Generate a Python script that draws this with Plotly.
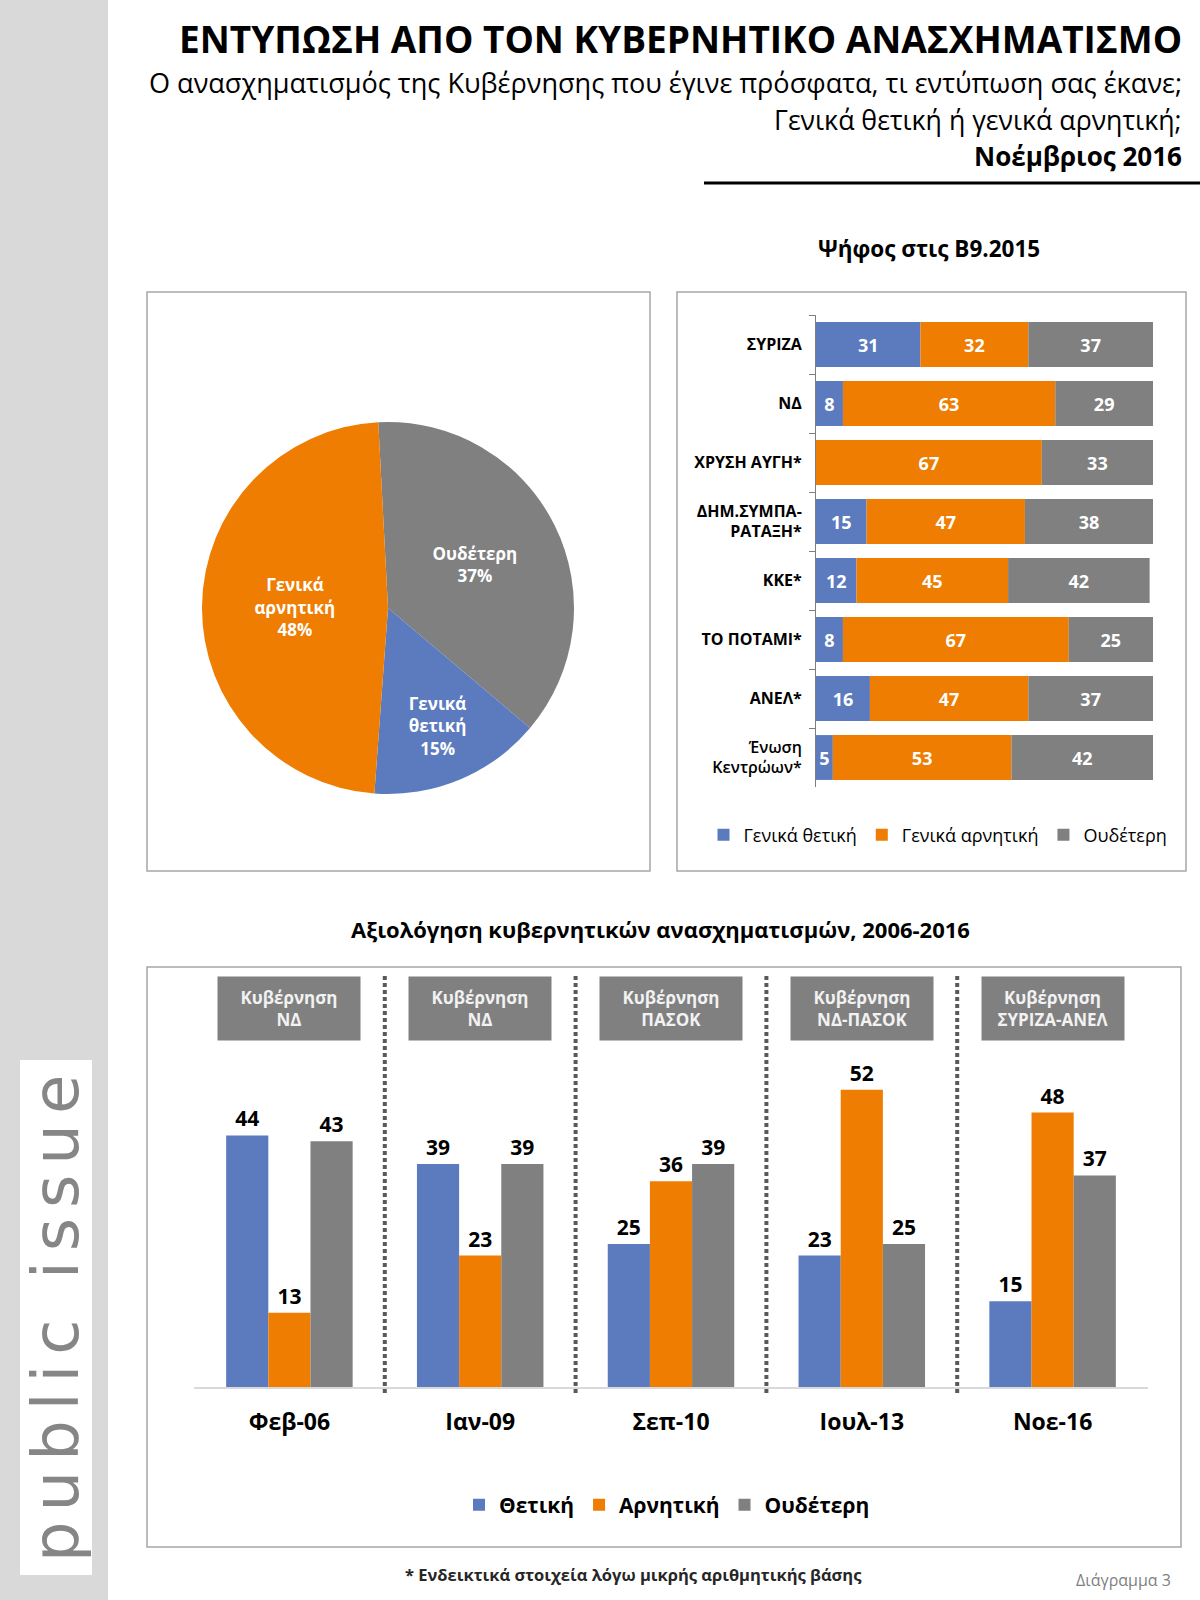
import plotly.graph_objects as go
import numpy as np

W, H = 1200, 1600
def px(x): return x / W
def py(y): return 1 - y / H

FONT = "Open Sans"
BLUE = "#5B7BBE"
ORANGE = "#EE7D02"
GRAY = "#808080"

# ---- Pie data ----
pie_labels = ["Ουδέτερη", "Γενικά θετική", "Γενικά αρνητική"]
pie_values = [37, 15, 48]

# ---- Stacked horizontal bars (vote 2015) ----
parties = ["<b>ΣΥΡΙΖΑ</b>", "<b>ΝΔ</b>", "<b>ΧΡΥΣΗ ΑΥΓΗ*</b>", "<b>ΔΗΜ.ΣΥΜΠΑ-<br>ΡΑΤΑΞΗ*</b>",
           "<b>ΚΚΕ*</b>", "<b>ΤΟ ΠΟΤΑΜΙ*</b>", "<b>ΑΝΕΛ*</b>",
           "<span style='font-weight:600'>Ένωση<br>Κεντρώων*</span>"]
party_pos = [31, 8, 0, 15, 12, 8, 16, 5]
party_neg = [32, 63, 67, 47, 45, 67, 47, 53]
party_neu = [37, 29, 33, 38, 42, 25, 37, 42]
party_series = ["Γενικά θετική", "Γενικά αρνητική", "Ουδέτερη"]

# ---- Grouped bars (reshuffles) ----
dates = ["Φεβ-06", "Ιαν-09", "Σεπ-10", "Ιουλ-13", "Νοε-16"]
governments = ["Κυβέρνηση<br>ΝΔ", "Κυβέρνηση<br>ΝΔ", "Κυβέρνηση<br>ΠΑΣΟΚ",
               "Κυβέρνηση<br>ΝΔ-ΠΑΣΟΚ", "Κυβέρνηση<br>ΣΥΡΙΖΑ-ΑΝΕΛ"]
eval_pos = [44, 39, 25, 23, 15]
eval_neg = [13, 23, 36, 52, 48]
eval_neu = [43, 39, 39, 25, 37]
eval_series = ["Θετική", "Αρνητική", "Ουδέτερη"]

fig = go.Figure()

# Pie
fig.add_trace(go.Pie(
    labels=pie_labels, values=pie_values,
    text=[l.replace(" ", "<br>") for l in pie_labels],
    texttemplate="%{text}<br>%{value}%",
    textposition="inside", insidetextorientation="horizontal",
    textfont=dict(family=FONT, size=17, color="white", weight="bold"),
    marker=dict(colors=[GRAY, BLUE, ORANGE], line=dict(width=0)),
    sort=False, direction="clockwise", rotation=-3,
    domain=dict(x=[px(202), px(574)], y=[py(794), py(422)]),
    showlegend=False, hoverinfo="skip",
))

# Stacked horizontal bars via explicit base
vals = [party_pos, party_neg, party_neu]
cols = [BLUE, ORANGE, GRAY]
cum = np.zeros(len(parties))
for name, v, c in zip(party_series, vals, cols):
    v = np.array(v)
    fig.add_trace(go.Bar(
        y=parties, x=v, base=cum.copy(), orientation="h", name=name,
        marker=dict(color=c, line=dict(width=0)),
        text=[str(a) if a > 0 else "" for a in v],
        textposition="inside", insidetextanchor="middle", textangle=0,
        constraintext="none",
        textfont=dict(family=FONT, size=18, color="white", weight="bold"),
        width=0.76, offsetgroup="stack",
        xaxis="x", yaxis="y", legend="legend", hoverinfo="skip",
    ))
    cum = cum + v

# Grouped bars
for name, v, c in zip(eval_series, [eval_pos, eval_neg, eval_neu], cols):
    fig.add_trace(go.Bar(
        x=dates, y=v, name=name,
        marker=dict(color=c, line=dict(width=0)),
        text=[str(a) for a in v], textposition="outside", cliponaxis=False,
        textfont=dict(family=FONT, size=21, color="black", weight="bold"),
        xaxis="x2", yaxis="y2", legend="legend2", hoverinfo="skip",
    ))

shapes = [
    # side bar
    dict(type="rect", xref="paper", yref="paper", x0=0, x1=px(108), y0=0, y1=1,
         fillcolor="#D9D9D9", line=dict(width=0), layer="below"),
    dict(type="rect", xref="paper", yref="paper", x0=px(20), x1=px(92), y0=py(1575), y1=py(1060),
         fillcolor="white", line=dict(width=0), layer="below"),
    # header rule
    dict(type="line", xref="paper", yref="paper", x0=px(704), x1=1, y0=py(183), y1=py(183),
         line=dict(color="black", width=3)),
    # panel borders
    dict(type="rect", xref="paper", yref="paper", x0=px(147), x1=px(650), y0=py(871), y1=py(292),
         line=dict(color="#A6A6A6", width=1.5), layer="below"),
    dict(type="rect", xref="paper", yref="paper", x0=px(677), x1=px(1186), y0=py(871), y1=py(292),
         line=dict(color="#A6A6A6", width=1.5), layer="below"),
    dict(type="rect", xref="paper", yref="paper", x0=px(147), x1=px(1181), y0=py(1547), y1=py(967),
         line=dict(color="#A6A6A6", width=1.5), layer="below"),
]
# dotted separators between periods
for i in range(len(dates) - 1):
    shapes.append(dict(type="line", xref="x2", yref="paper", x0=i + 0.5, x1=i + 0.5,
                       y0=py(1393), y1=py(975),
                       line=dict(color="#595959", width=4, dash="4px,3px"), layer="below"))

annotations = [
    dict(text="<b>ΕΝΤΥΠΩΣΗ ΑΠΟ ΤΟΝ ΚΥΒΕΡΝΗΤΙΚΟ ΑΝΑΣΧΗΜΑΤΙΣΜΟ</b>", x=px(1184), y=py(38),
         xanchor="right", yanchor="middle", font=dict(family=FONT, size=37, color="black")),
    dict(text="Ο ανασχηματισμός της Κυβέρνησης που έγινε πρόσφατα, τι εντύπωση σας έκανε;",
         x=px(1184), y=py(82), xanchor="right", yanchor="middle",
         font=dict(family=FONT, size=27.1, color="black")),
    dict(text="Γενικά θετική ή γενικά αρνητική;", x=px(1184), y=py(120), xanchor="right",
         yanchor="middle", font=dict(family=FONT, size=26.7, color="black")),
    dict(text="<b>Νοέμβριος 2016</b>", x=px(1184), y=py(156), xanchor="right", yanchor="middle",
         font=dict(family=FONT, size=26, color="black")),
    dict(text="<b>Ψήφος στις Β9.2015</b>", x=px(929), y=py(248), xanchor="center", yanchor="middle",
         font=dict(family=FONT, size=22.5, color="black")),
    dict(text="<b>Αξιολόγηση κυβερνητικών ανασχηματισμών, 2006-2016</b>", x=px(660), y=py(929),
         xanchor="center", yanchor="middle", font=dict(family=FONT, size=22, color="black")),
    dict(text="<b>* Ενδεικτικά στοιχεία λόγω μικρής αριθμητικής βάσης</b>", x=px(633), y=py(1574),
         xanchor="center", yanchor="middle", font=dict(family=FONT, size=16.5, color="#262626")),
    dict(text="Διάγραμμα 3", x=px(1173), y=py(1580), xanchor="right", yanchor="middle",
         font=dict(family=FONT, size=16, color="#7F7F7F")),
    dict(text="<span style='letter-spacing:10px'>public issue</span>", x=px(56), y=py(1314),
         xanchor="center", yanchor="middle",
         textangle=-90, font=dict(family="DejaVu Sans", size=64, color="#868686")),
]
for i, g in enumerate(governments):
    annotations.append(dict(text="<b>" + g + "</b>", xref="x2", yref="paper", x=i, y=py(1008),
                            xanchor="center", yanchor="middle", width=142, height=63,
                            bgcolor=GRAY, borderpad=0, showarrow=False, align="center",
                            valign="middle",
                            font=dict(family=FONT, size=17, color="#F2F2F2")))
for a in annotations:
    a.setdefault("xref", "paper")
    a.setdefault("yref", "paper")
    a.setdefault("showarrow", False)

fig.update_layout(
    width=W, height=H, margin=dict(l=0, r=0, t=0, b=0),
    paper_bgcolor="white", plot_bgcolor="rgba(0,0,0,0)",
    font=dict(family=FONT, color="black"),
    barmode="group", bargap=0.337, bargroupgap=0,
    shapes=shapes, annotations=annotations,
    xaxis=dict(domain=[px(816), px(1153)], range=[0, 100], visible=False, anchor="y"),
    yaxis=dict(domain=[py(787), py(315)], type="category", autorange="reversed",
               showline=True, linecolor="#7F7F7F", linewidth=1, ticks="outside",
               tickson="boundaries", ticklen=6, tickcolor="#7F7F7F",
               tickfont=dict(family=FONT, size=16, color="black"),
               ticklabelstandoff=10, showgrid=False, anchor="x"),
    xaxis2=dict(domain=[px(194), px(1148)], anchor="y2", type="category",
                showline=True, linecolor="#D9D9D9", linewidth=1.5, ticks="",
                tickfont=dict(family=FONT, size=23, color="black", weight="bold"),
                ticklabelstandoff=14, showgrid=False),
    yaxis2=dict(domain=[py(1387), py(1044)], range=[0, 60], visible=False, anchor="x2"),
    legend=dict(orientation="h", x=px(938), xanchor="center", y=py(835), yanchor="middle",
                font=dict(family=FONT, size=18, color="black"), itemwidth=30,
                traceorder="normal", bgcolor="rgba(0,0,0,0)"),
    legend2=dict(orientation="h", x=px(667), xanchor="center", y=py(1505), yanchor="middle",
                 font=dict(family=FONT, size=21, color="black", weight="bold"), itemwidth=30,
                 traceorder="normal", bgcolor="rgba(0,0,0,0)"),
)

fig.write_html("out.html", config={"displayModeBar": False},
               post_script="document.body.style.margin='0px';")
